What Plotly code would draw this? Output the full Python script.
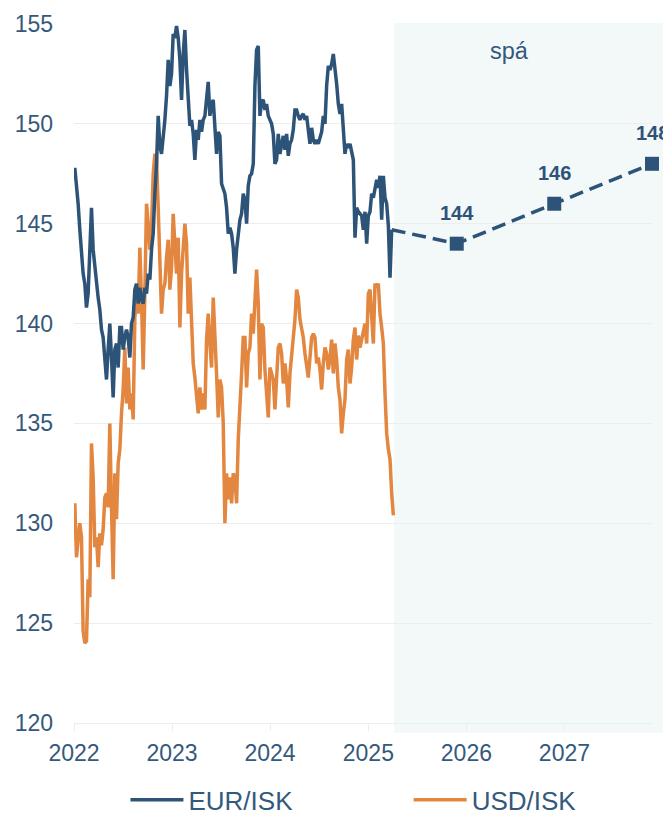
import pandas as pd
import plotly.graph_objects as go

# -------------------------
# DATA (roughly weekly samples)
# -------------------------
eur_isk = [
    147.8, 147.0, 146.0, 144.7, 143.3, 142.5, 142.0, 140.8, 141.5, 143.5,
    145.8, 143.7, 142.8, 142.0, 141.3, 140.7, 139.7, 139.3, 138.3, 137.2,
    138.7, 140.0, 138.3, 136.3, 138.7, 139.0, 137.8, 139.8, 139.8, 138.7,
    139.3, 139.7, 139.3, 138.3, 140.0, 140.3, 141.7, 142.0, 141.0, 141.8,
    141.2, 141.0, 141.8, 141.5, 142.5, 142.2, 143.7, 144.5, 146.5, 148.0,
    150.4, 148.9, 148.5, 149.2, 150.2, 151.4, 153.2, 151.9, 152.5, 154.5,
    154.3, 154.9, 154.3, 153.2, 151.2, 153.5, 154.7, 152.7, 151.0, 149.9,
    150.2, 149.5, 148.2, 149.7, 149.2, 150.2, 149.6, 150.2, 150.4, 151.2,
    152.1, 150.4, 151.0, 151.2, 149.4, 148.5, 149.6, 149.4, 147.0, 146.8,
    146.5, 145.8, 144.5, 144.8, 144.5, 143.8, 142.5, 143.7, 144.5, 145.2,
    145.5, 146.5, 146.2, 145.0, 146.9, 147.4, 147.5, 148.0, 151.9, 153.7,
    153.9, 150.4, 151.1, 151.2, 150.7, 151.0, 150.4, 150.2, 150.0, 149.5,
    148.0, 148.2, 149.5, 148.5, 149.0, 149.4, 148.7, 149.5, 148.4, 149.0,
    149.2, 149.7, 150.7, 150.7, 150.4, 150.2, 150.4, 150.5, 150.2, 150.4,
    149.7, 149.0, 149.8, 149.2, 149.0, 149.2, 149.0, 149.4, 149.6, 150.4,
    150.0, 151.9, 152.9, 152.7, 153.0, 153.5, 152.8, 152.0, 151.0, 150.5,
    151.0, 149.8, 148.5, 149.0, 148.8, 149.0, 148.5, 148.2, 144.3, 145.8,
    145.6, 145.5, 145.4, 144.7, 145.6, 144.0, 145.4, 145.6, 146.5, 146.3,
    146.9, 147.2, 146.8, 147.4, 145.2, 147.4, 146.3, 146.0, 144.9, 142.3,
    144.7,
]

usd_isk = [
    131.0, 128.3, 129.2, 130.0, 129.3, 124.6, 124.0, 124.1, 127.2, 126.3,
    134.0, 132.3, 128.8, 129.3, 127.8, 129.5, 128.9, 129.7, 131.3, 131.5,
    130.8, 135.0, 130.8, 127.2, 132.5, 130.2, 133.0, 133.7, 135.5, 136.7,
    138.8, 136.0, 137.8, 135.7, 136.5, 135.2, 140.3, 141.2, 140.5, 143.8,
    141.2, 137.7, 141.5, 146.0, 145.0, 143.7, 144.8, 147.5, 148.5, 148.3,
    145.8, 142.8, 140.5, 141.7, 142.0, 143.3, 144.2, 141.7, 142.8, 145.5,
    144.2, 142.5, 144.3, 139.8, 142.5, 143.8, 145.0, 144.0, 140.5, 142.3,
    140.5, 138.0, 137.3, 136.3, 135.5, 136.8, 135.7, 136.5, 135.7, 139.2,
    140.5, 139.0, 137.8, 141.3, 138.8, 137.5, 135.3, 137.2, 136.8, 135.0,
    130.0, 132.5, 131.2, 132.3, 131.0, 132.5, 132.3, 131.0, 134.2, 136.3,
    137.5, 139.3, 139.3, 136.8, 138.5, 138.8, 140.5, 139.5, 141.0, 142.7,
    141.0, 137.2, 140.0, 139.8, 137.7, 136.5, 135.3, 137.8, 137.5, 137.2,
    135.7, 137.0, 138.8, 139.0, 138.5, 137.0, 138.0, 137.2, 135.8, 137.5,
    138.5, 139.0, 140.2, 141.7, 141.3, 140.2, 139.7, 139.3, 138.5, 137.7,
    137.3, 138.3, 139.3, 139.5, 139.3, 138.0, 138.3, 137.7, 136.7, 138.0,
    138.8, 138.5, 137.7, 138.2, 139.2, 137.5, 139.0, 138.2, 136.8, 136.2,
    134.5, 135.5, 136.2, 138.2, 138.7, 137.0, 137.8, 139.2, 139.8, 138.2,
    139.4, 138.8, 139.2, 139.8, 140.0, 139.0, 141.5, 141.7, 140.2, 139.0,
    142.0, 141.8, 142.0, 140.5, 139.8, 139.0, 136.5, 134.5, 133.7, 133.2,
    131.5, 130.4,
]

forecast_dates = ["2025-11-26", "2026-11-24", "2027-11-23"]
forecast_eur = [144, 146, 148]

sample_dates = pd.date_range("2022-01-04", "2025-04-04", periods=len(usd_isk))
eur_dates = sample_dates[:len(eur_isk)]

forecast_start = pd.Timestamp("2025-04-07")
x_start = pd.Timestamp("2022-01-01")
x_end = pd.Timestamp(forecast_dates[-1])

BLUE = "#2D5478"
ORANGE = "#E3863F"
TEXT = "#34597C"
GRID = "#EDEDED"
FONT = "Liberation Sans, Arial, sans-serif"

# -------------------------
# FIGURE
# -------------------------
fig = go.Figure()

fig.add_trace(go.Scatter(
    x=sample_dates, y=usd_isk, mode="lines", name="USD/ISK",
    line=dict(color=ORANGE, width=3.5), legend="legend2",
))
fig.add_trace(go.Scatter(
    x=eur_dates, y=eur_isk, mode="lines", name="EUR/ISK",
    line=dict(color=BLUE, width=3.5), legend="legend",
))

# forecast: dashed line from the last observation, squares with labels
fig.add_trace(go.Scatter(
    x=[eur_dates[-1]] + forecast_dates,
    y=[eur_isk[-1]] + forecast_eur,
    mode="lines", showlegend=False,
    line=dict(color=BLUE, width=3.5, dash="14px,7px"),
))
fig.add_trace(go.Scatter(
    x=forecast_dates, y=forecast_eur, mode="markers",
    marker=dict(symbol="square", size=14, color=BLUE),
    showlegend=False, cliponaxis=False,
))
for d, v in zip(forecast_dates, forecast_eur):
    fig.add_annotation(
        x=d, y=v, text=str(v), showarrow=False, yshift=31,
        font=dict(size=20, color=BLUE, family=FONT, weight="bold"),
    )

# shaded forecast area (spills a little past the plot area)
x0_frac = (forecast_start - x_start) / (x_end - x_start)
fig.add_shape(
    type="rect", xref="paper", yref="paper",
    x0=x0_frac, x1=1.026, y0=-0.014, y1=1.0015,
    fillcolor="#F3F8F8", line=dict(width=0), layer="below",
)
fig.add_annotation(
    xref="paper", yref="paper", x=(x0_frac + 1.026) / 2, y=0.962,
    yanchor="middle", text="spá", showarrow=False,
    font=dict(size=23.5, color=TEXT, family=FONT),
)

legend_style = dict(
    orientation="h", y=-0.11, xanchor="left", yanchor="middle",
    font=dict(size=26, color=TEXT, family=FONT), itemwidth=53,
    bgcolor="rgba(0,0,0,0)",
)

# the page adds an 8px body margin, so margins are 8px smaller here
fig.update_layout(
    width=671, height=819,
    margin=dict(l=66, r=27, t=16, b=104, autoexpand=False),
    plot_bgcolor="white", paper_bgcolor="white",
    font=dict(family=FONT, size=23, color=TEXT),
    showlegend=True,
    legend=dict(x=0.089, **legend_style),
    legend2=dict(x=0.579, **legend_style),
    xaxis=dict(
        type="date", range=[x_start, x_end], automargin=False,
        tick0="2022-01-01", dtick="M12", tickformat="%Y",
        showgrid=False, showline=True, linecolor=GRID, linewidth=1,
        ticks="outside", ticklen=7, tickcolor=GRID, ticklabelstandoff=2,
        tickfont=dict(size=23, color=TEXT), zeroline=False,
    ),
    yaxis=dict(
        range=[120, 155], dtick=5, showgrid=True, gridcolor=GRID,
        gridwidth=1, zeroline=False, showline=False, automargin=False,
        ticks="", ticklabelstandoff=20,
        tickfont=dict(size=23, color=TEXT),
    ),
)

fig.write_html("out.html")
